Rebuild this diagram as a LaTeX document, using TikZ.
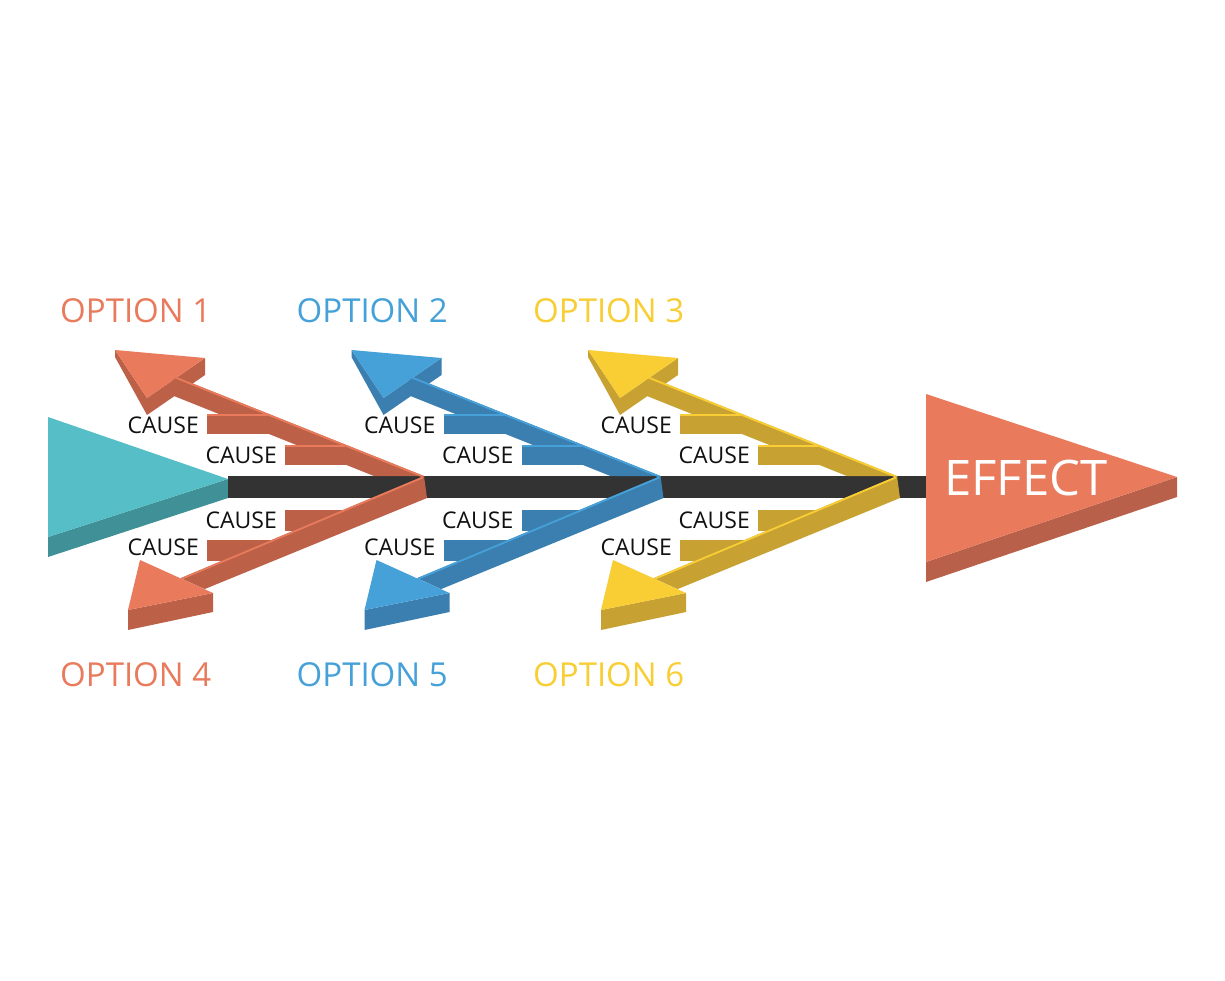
\documentclass[tikz,border=0pt]{standalone}
\usepackage{fontspec}
\setmainfont{Open Sans}
\definecolor{orL}{HTML}{E97B5C}
\definecolor{orD}{HTML}{BC6047}
\definecolor{blL}{HTML}{46A1D8}
\definecolor{blD}{HTML}{3A7FAF}
\definecolor{yeL}{HTML}{F8CE34}
\definecolor{yeD}{HTML}{C7A233}
\definecolor{teL}{HTML}{55BEC6}
\definecolor{teD}{HTML}{3F9197}
\definecolor{spinec}{HTML}{333333}
\definecolor{efD}{HTML}{B9604A}
\definecolor{causec}{HTML}{111111}
\tikzset{
  causelbl/.style={anchor=base east, inner sep=0pt, text=causec, font=\fontsize{23}{27}\selectfont},
  optlbl/.style={anchor=base west, inner sep=0pt, font=\fontsize{33}{38}\selectfont},
  hilite/.style={line width=1.8pt},
}
% #1 xshift, #2 light colour, #3 dark colour, #4 top option number, #5 bottom option number
\newcommand\fishbranch[5]{%
\begin{scope}[xshift=#1]
  % ---- top bone ----
  \fill[#3] (115,350) -- (147,398) -- (205,358) -- (205,375) -- (147,415) -- (115,357) -- cycle;
  \fill[#3] (207,414) rectangle (270,434);
  \fill[#3] (285,445) rectangle (347,465);
  \fill[#3] (424,476) -- (172,375.2) -- (172,395.2) -- (374,476) -- cycle;
  \draw[#2, hilite] (424,477) -- (176,377.8);
  \draw[#2, hilite] (207,415) -- (268,415);
  \draw[#2, hilite] (285,446) -- (345,446);
  \fill[#2] (115,350) -- (205,358) -- (147,398) -- cycle;
  % ---- bottom bone ----
  \fill[#3] (285,510) rectangle (343,531);
  \fill[#3] (207,540) rectangle (272,561);
  \fill[#3] (424,476) -- (180.5,578.2) -- (204.6,589.1) -- (427,498) -- cycle;
  \draw[#2, hilite] (423,477.4) -- (182,578.6);
  \fill[#3] (128,610) -- (213,593) -- (213,612) -- (128,630) -- cycle;
  \fill[#2] (140,560) -- (213,593) -- (128,610) -- cycle;
  % ---- labels ----
  \node[causelbl] (cause#4a) at (199,433) {CAUSE};
  \node[causelbl] (cause#4b) at (277,463) {CAUSE};
  \node[causelbl] (cause#5a) at (277,528) {CAUSE};
  \node[causelbl] (cause#5b) at (199,555) {CAUSE};
  \node[optlbl, text=#2] (opt#4) at (60,322) {OPTION #4};
  \node[optlbl, text=#2] (opt#5) at (60,686) {OPTION #5};
\end{scope}}
\begin{document}
\begin{tikzpicture}[x=1pt,y=-1pt]
  \fill[white] (0,0) rectangle (1225,980);
  \useasboundingbox (0,0) rectangle (1225,980);
  % tail (teal)
  \fill[teD] (48,537) -- (228,479) -- (228,498) -- (48,557) -- cycle;
  \fill[teL] (48,417) -- (228,479) -- (48,537) -- cycle;
  \coordinate (tail) at (228,487);
  % spine
  \fill[spinec] (228,476) rectangle (927,498);
  % bones
  \fishbranch{0pt}{orL}{orD}{1}{4}
  \fishbranch{236.5pt}{blL}{blD}{2}{5}
  \fishbranch{473pt}{yeL}{yeD}{3}{6}
  % head (effect)
  \fill[efD] (926,562) -- (1177,477) -- (1177,497) -- (926,582) -- cycle;
  \fill[orL] (926,394) -- (1177,477) -- (926,562) -- cycle;
  \node[anchor=base west, inner sep=0pt, text=white, font=\fontsize{49}{56}\selectfont] (effect) at (944,495) {EFFECT};
\end{tikzpicture}
\end{document}
